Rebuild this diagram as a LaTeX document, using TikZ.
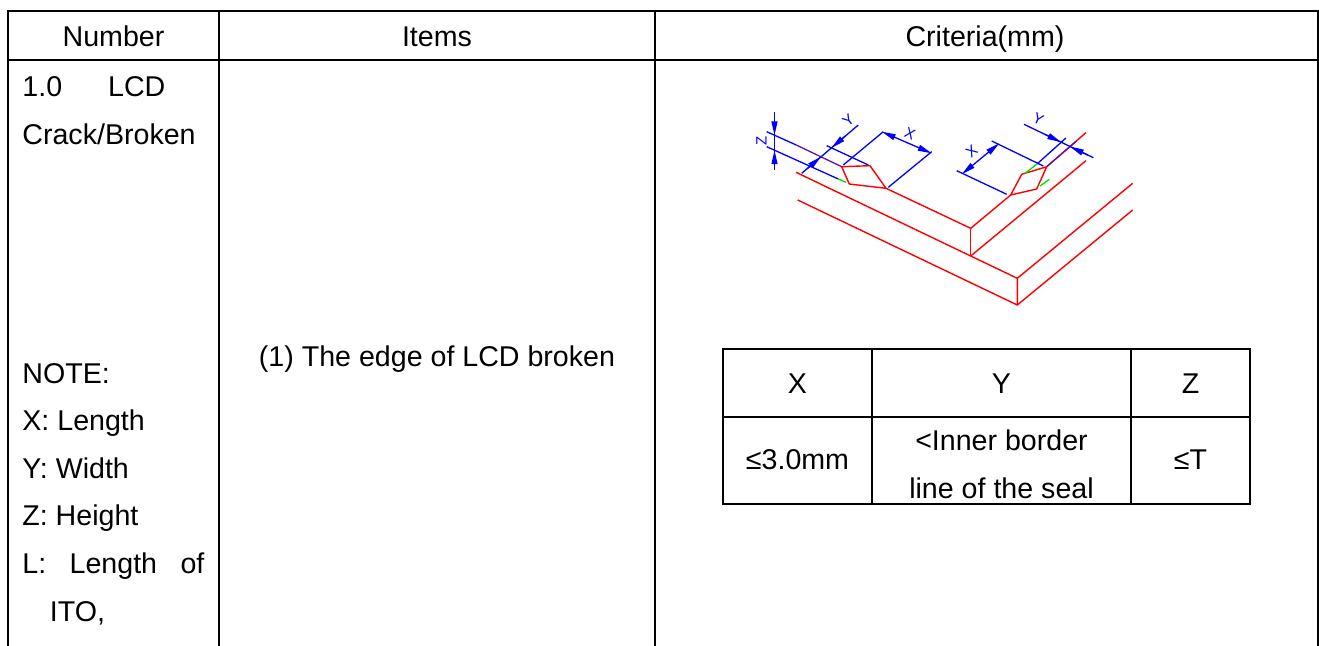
\documentclass[tikz,border=0pt]{standalone}
\usepackage{fontspec}
\setmainfont{Liberation Sans}
\usetikzlibrary{arrows.meta}

\definecolor{cadred}{RGB}{255,0,0}
\definecolor{cadblue}{RGB}{0,0,255}
\definecolor{cadgreen}{RGB}{0,220,0}
\definecolor{cadmix}{RGB}{90,20,170}

\begin{document}
\begin{tikzpicture}[
  x=0.5pt, y=-0.5pt,
  grid/.style={line width=1pt},
  txt/.style={inner sep=0pt, font=\fontsize{14.3}{17}\selectfont},
  glass/.style={cadred, line width=0.7pt, line join=round},
  dim/.style={cadblue, line width=0.65pt},
  dimtip/.style={dim, -{Triangle[length=7pt,width=3pt]}},
  dimboth/.style={dim, {Triangle[length=7pt,width=3pt]}-{Triangle[length=7pt,width=3pt]}},
  dimtxt/.style={cadblue, inner sep=0pt, font=\fontsize{7.5}{8}\selectfont},
  seam/.style={cadgreen, line width=0.65pt},
]
\useasboundingbox (0,0) rectangle (1319,646);

% 表格线
\draw[grid] (8.3,646) -- (8.3,11) -- (1317.5,11) -- (1317.5,646);
\draw[grid] (8.3,60.3) -- (1317.5,60.3);
\draw[grid] (219,11) -- (219,646);
\draw[grid] (655,11) -- (655,646);

\node[txt, anchor=base] (hnum)  at (113.5,47) {Number};
\node[txt, anchor=base] (hitem) at (437,47) {Items};
\node[txt, anchor=base] (hcrit) at (985,47) {Criteria(mm)};

\node[txt, anchor=base west] (num)   at (22,96.5)  {\makebox[71.5pt][l]{1.0\hfill LCD}};
\node[txt, anchor=base west] (crack) at (22,144.5) {Crack/Broken};
\node[txt, anchor=base west] (note)  at (22,383.5) {NOTE:};
\node[txt, anchor=base west] (xlen)  at (22,431)   {X: Length};
\node[txt, anchor=base west] (ywid)  at (22,478.5) {Y: Width};
\node[txt, anchor=base west] (zhgt)  at (22,526)   {Z: Height};
\node[txt, anchor=base west] (llen)  at (22,574)   {\makebox[91pt][l]{L:\hfill Length\hfill of}};
\node[txt, anchor=base west] (ito)   at (49.5,621.5) {ITO,};

\node[txt, anchor=base] (item) at (437,366.7) {(1) The edge of LCD broken};

% 小表
\draw[grid] (723,349) rectangle (1250,504.5);
\draw[grid] (723,417) -- (1250,417);
\draw[grid] (872,349) -- (872,504.5);
\draw[grid] (1131,349) -- (1131,504.5);

\node[txt, anchor=base] (tx)  at (797.5,393.3)  {X};
\node[txt, anchor=base] (ty)  at (1001.5,393.3) {Y};
\node[txt, anchor=base] (tz)  at (1190.5,393.3) {Z};
\node[txt, anchor=base] (vx)  at (797.5,470)    {≤3.0mm};
\node[txt, anchor=base] (vy1) at (1001.5,450.7) {<Inner border};
\node[txt, anchor=base] (vy2) at (1001.5,498.3) {line of the seal};
\node[txt, anchor=base] (vz)  at (1190.5,470)   {≤T};

% 玻璃
\coordinate (tl) at (796,144.9);
\coordinate (a1) at (841.7,166.7);
\coordinate (a2) at (886,188.3);
\coordinate (c1) at (970.7,228.3);
\coordinate (c2) at (970.7,256);
\coordinate (b1) at (1010.7,195);
\coordinate (b2) at (1046.7,166.7);
\coordinate (tr) at (1086,132.6);
\coordinate (br) at (1086,160.7);
\coordinate (bl) at (796,172.3);
\coordinate (c3) at (1017.3,278.3);
\coordinate (c4) at (1017.3,305);
\coordinate (lbl) at (797.7,200);
\coordinate (ltr) at (1132.7,183.3);
\coordinate (lbr) at (1132.7,210);

\draw[glass] (a2) -- (c1) -- (b1);
\draw[glass] (b2) -- (tr);
\draw[glass] (c1) -- (c2);
\draw[glass] (bl) -- (c2) -- (c3) -- (c4);
\draw[glass] (c2) -- (br);
\draw[glass] (lbl) -- (c4) -- (lbr);
\draw[glass] (c3) -- (ltr);
\draw[glass] (a1) -- (870,165.7) -- (a2) -- (849.3,184) -- cycle;
\draw[glass] (b1) -- (1021.7,174.3) -- (b2) -- (1036.7,189) -- cycle;

% 尺寸线
\draw[dim] (766.7,131.7) -- (tl);
\draw[dim, cadmix] (tl) -- (a1);
\draw[dim] (766.7,146.7) -- (838.3,179);
\draw[seam] (838.3,179) -- (846,182.3);
\draw[dim] (774.5,112.3) -- (774.5,170);
\draw[dimtip] (774.5,119) -- (774.5,135.3);
\draw[dimtip] (774.5,166) -- (774.5,150.2);
\node[dimtxt, rotate=90] (zlab) at (761.5,141) {Z};

\draw[dim] (826.7,145.7) -- (868.3,165);
\draw[dim] (801.7,173.3) -- (858.3,125);
\draw[dimtip] (845.8,135.6) -- (831.5,147.9);
\draw[dimtip] (807,168.8) -- (821.1,156.7);
\node[dimtxt, rotate=40.5] (ylab1) at (848.3,120) {Y};

\draw[dim] (843.3,165) -- (883.3,131.7);
\draw[dim] (888.3,187.3) -- (931.7,151.7);
\draw[dimboth] (881.7,131.7) -- (931.7,153.3);
\node[dimtxt, rotate=-23.4] (xlab1) at (910,133.3) {X};

\draw[dim] (956.7,170.7) -- (1006.7,194.3);
\draw[dim] (991.7,141) -- (1043.3,166);
\draw[dimboth] (961.7,174.3) -- (999.3,143.3);
\node[dimtxt, rotate=39.5] (xlab2) at (971.7,151.7) {X};

\draw[dim] (1066,138) -- (1037,164);
\draw[seam] (1037,164) -- (1025,173.5);
\draw[dim, cadmix] (b2) -- (1077,140.6);
\draw[dim] (1024,124.3) -- (1093.3,157.7);
\draw[dimtip] (1045,134.4) -- (1061.2,142.2);
\draw[dimtip] (1088,155.2) -- (1069.9,146.5);
\node[dimtxt, rotate=-25.7] (ylab2) at (1038.3,119) {Y};
\draw[seam] (1040,186) -- (1049.3,179.3);
\end{tikzpicture}
\end{document}
